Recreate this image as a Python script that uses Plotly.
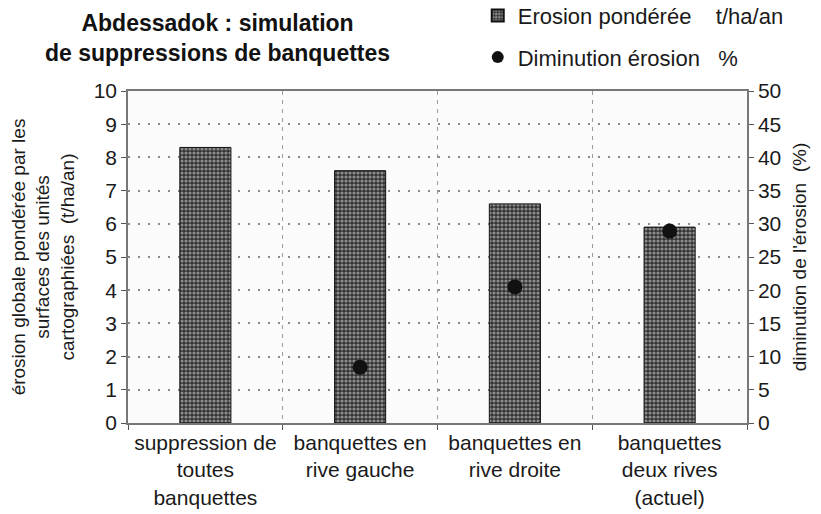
import plotly.graph_objects as go

# Scenario categories (x axis)
categories = [
    "suppression de<br>toutes<br>banquettes",
    "banquettes en<br>rive gauche",
    "banquettes en<br>rive droite",
    "banquettes<br>deux rives<br>(actuel)",
]
# Weighted erosion, t/ha/an (left axis)
erosion_ponderee = [8.3, 7.6, 6.6, 5.9]
# Decrease in erosion, % (right axis); no value for the reference scenario
diminution_erosion = [None, 8.4, 20.5, 28.9]

FONT = "Arial, Liberation Sans, sans-serif"
INK = "#1a1a1a"
GRID = "#8a8a8a"

fig = go.Figure()

fig.add_trace(go.Bar(
    x=categories,
    y=erosion_ponderee,
    name="Erosion pondérée\u00a0\u00a0\u00a0\u00a0t/ha/an",
    marker=dict(
        color="#333333",
        line=dict(color="#111111", width=1),
        pattern=dict(shape=".", fgcolor="#e8e8e8", bgcolor="#333333",
                     size=4, solidity=0.5, fillmode="overlay"),
    ),
    legendgroup="a",
    yaxis="y",
))

fig.add_trace(go.Scatter(
    x=categories,
    y=diminution_erosion,
    name="Diminution érosion\u00a0\u00a0\u00a0%",
    mode="markers",
    marker=dict(color="#111111", size=15, symbol="circle"),
    legendgroup="b",
    yaxis="y2",
))

fig.add_annotation(
    text="<b>Abdessadok : simulation<br>de suppressions de banquettes</b>",
    xref="paper", yref="paper", x=(217 - 128) / 619, y=1.25,
    xanchor="center", yanchor="top", showarrow=False,
    font=dict(family=FONT, size=23, color="#111111"), align="center",
)

fig.update_layout(
    width=821, height=514,
    margin=dict(l=128, r=74, t=91, b=91, autoexpand=False),
    paper_bgcolor="white",
    plot_bgcolor="#fbfbfb",
    font=dict(family=FONT, size=21, color=INK),
    bargap=0.67,
    showlegend=True,
    legend=dict(
        x=0.565, y=1.29, xanchor="left", yanchor="top",
        bgcolor="rgba(0,0,0,0)", font=dict(family=FONT, size=22, color=INK),
        tracegroupgap=10, itemsizing="constant",
    ),
    xaxis=dict(
        type="category",
        tickson="boundaries",
        showgrid=True, gridcolor="#9a9a9a", griddash="4px,5px", gridwidth=1,
        ticks="outside", ticklen=5, tickcolor="#555",
        showline=True, linecolor="#777", linewidth=1.5, mirror=True,
        tickangle=0, automargin=False,
        tickfont=dict(family=FONT, size=21, color=INK),
    ),
    yaxis=dict(
        range=[0, 10], dtick=1,
        showgrid=True, gridcolor=GRID, griddash="2px,8px", gridwidth=1.5,
        ticks="outside", ticklen=5, tickcolor="#555",
        showline=True, linecolor="#777", linewidth=1.5,
        zeroline=False, automargin=False,
        tickfont=dict(family=FONT, size=21, color=INK),
        title=dict(
            text="érosion globale pondérée par les<br>surfaces des unités<br>cartographiées\u00a0\u00a0(t/ha/an)",
            font=dict(family=FONT, size=19, color=INK), standoff=14,
        ),
    ),
    yaxis2=dict(
        range=[0, 50], dtick=5,
        overlaying="y", side="right",
        showgrid=False,
        ticks="outside", ticklen=5, tickcolor="#555",
        showline=True, linecolor="#777", linewidth=1.5,
        zeroline=False, automargin=False,
        tickfont=dict(family=FONT, size=21, color=INK),
        title=dict(
            text="diminution de l'érosion\u00a0\u00a0(%)",
            font=dict(family=FONT, size=19, color=INK), standoff=12,
        ),
    ),
)

fig.write_html("out.html")
